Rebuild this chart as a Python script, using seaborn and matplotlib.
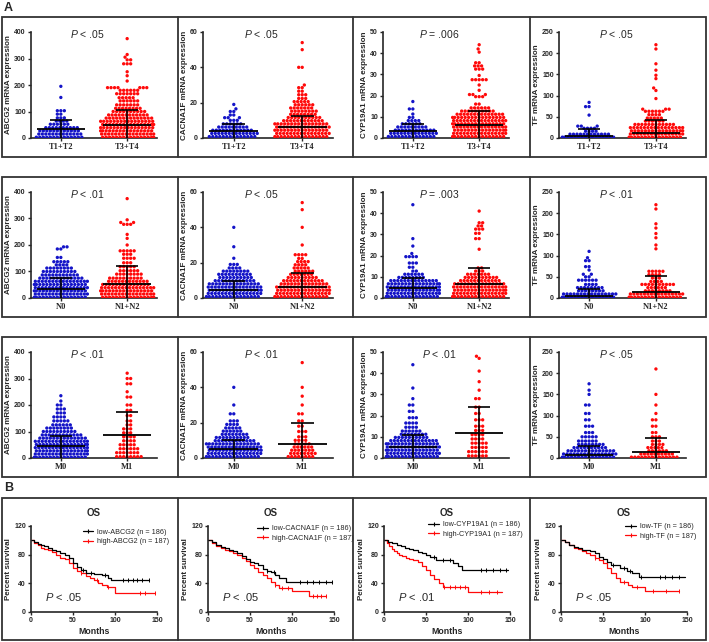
import numpy as np
import pandas as pd
import seaborn as sns
import matplotlib
matplotlib.use('Agg')
import matplotlib.pyplot as plt
from matplotlib.lines import Line2D
from matplotlib.patches import Rectangle

# ---------------- A: expression dot plots ----------------
# each group = dot levels (mRNA value) and how many dots sit on that level
genes = ['ABCG2', 'CACNA1F', 'CYP19A1', 'TF']
gene_ticks = [[0, 100, 200, 300, 400], [0, 20, 40, 60], [0, 10, 20, 30, 40, 50], [0, 50, 100, 150, 200, 250]]
t_groups = ['T1+T2', 'T3+T4']
n_groups = ['N0', 'N1+N2']
m_groups = ['M0', 'M1']
p_t = ['< .05', '< .05', '= .006', '< .05']
p_n = ['< .01', '< .05', '= .003', '< .01']
p_m = ['< .01', '< .01', '< .01', '< .05']

# T stage
abcg2_t_lo_lv = [3, 15, 27, 39, 52, 64, 76, 90, 103, 153, 195]
abcg2_t_lo_n = [14, 13, 12, 10, 6, 4, 3, 2, 3, 1, 1]
abcg2_t_hi_lv = [3, 15, 27, 39, 51, 63, 75, 87, 100, 112, 125, 140, 152, 167, 180, 190, 215, 235, 250, 280, 295, 305, 315, 375]
abcg2_t_hi_n = [16, 16, 16, 16, 16, 16, 14, 12, 10, 8, 7, 6, 5, 7, 6, 7, 1, 1, 1, 3, 2, 1, 1, 1]
abcg2_t_mid = [33, 48]
abcg2_t_top = [68, 105]

cacna1f_t_lo_lv = [0.8, 2.6, 4.4, 6.2, 8, 10, 11.5, 13, 15, 16.5, 19]
cacna1f_t_lo_n = [14, 14, 12, 9, 6, 3, 3, 2, 2, 1, 1]
cacna1f_t_hi_lv = [0.8, 2.6, 4.4, 6.2, 8, 9.8, 11.6, 13.4, 15.2, 17, 18.8, 20.6, 22.4, 24.5, 26.5, 28.5, 30, 40, 50, 54]
cacna1f_t_hi_n = [16, 16, 16, 16, 16, 12, 10, 8, 8, 7, 6, 5, 3, 3, 2, 2, 1, 2, 1, 1]
cacna1f_t_mid = [4, 6]
cacna1f_t_top = [8, 12.5]

cyp_t_lo_lv = [0.7, 2.2, 3.7, 5.2, 6.7, 8.2, 9.7, 11.3, 13.7, 17.2]
cyp_t_lo_n = [14, 14, 12, 9, 6, 4, 2, 1, 2, 1]
cyp_t_hi_lv = [0.7, 2.2, 3.7, 5.2, 6.7, 8.2, 9.7, 11.2, 12.7, 14.2, 16, 19.5, 20.5, 22.5, 25, 27.5, 29.5, 32.5, 34, 35.5, 40.5, 42, 44]
cyp_t_hi_n = [16, 16, 16, 16, 16, 16, 16, 14, 10, 6, 2, 3, 3, 1, 1, 5, 1, 3, 3, 2, 1, 1, 1]
cyp_t_mid = [3.5, 6]
cyp_t_top = [6.5, 12.8]

tf_t_lo_lv = [2, 9, 16, 23, 28, 54, 74, 84]
tf_t_lo_n = [16, 12, 4, 4, 3, 1, 2, 1]
tf_t_hi_lv = [2, 9.5, 17, 24.5, 32, 40, 47, 55, 63, 68, 93, 112, 118, 140, 148, 160, 175, 210, 220]
tf_t_hi_n = [16, 16, 16, 16, 12, 6, 5, 4, 6, 3, 1, 1, 1, 1, 1, 1, 1, 1, 1]
tf_t_mid = [5, 12]
tf_t_top = [22, 42]

# N stage
abcg2_n_lo_lv = [3, 15, 27, 39, 51, 63, 75, 87, 100, 113, 125, 137, 153, 185, 193]
abcg2_n_lo_n = [16, 16, 16, 16, 16, 16, 13, 11, 10, 8, 4, 5, 2, 2, 2]
abcg2_n_hi_lv = [3, 15, 27, 39, 51, 63, 75, 90, 103, 118, 133, 150, 165, 178, 200, 225, 240, 278, 285, 295, 375]
abcg2_n_hi_n = [16, 16, 16, 16, 14, 12, 10, 8, 6, 5, 3, 4, 3, 5, 1, 1, 1, 3, 2, 1, 1]
abcg2_n_mid = [35, 52]
abcg2_n_top = [75, 120]

cacna1f_n_lo_lv = [0.8, 2.6, 4.4, 6.2, 8, 9.8, 11.6, 13.4, 15.2, 17, 19, 22.5, 29, 40]
cacna1f_n_lo_n = [16, 16, 16, 16, 15, 12, 10, 10, 8, 4, 3, 1, 1, 1]
cacna1f_n_hi_lv = [0.8, 2.6, 4.4, 6.2, 8, 9.8, 11.6, 13.4, 15.2, 17, 18.8, 20.6, 22.4, 24.5, 30, 40, 50, 54]
cacna1f_n_hi_n = [16, 16, 16, 16, 14, 12, 9, 7, 6, 5, 4, 4, 2, 4, 1, 1, 1, 1]
cacna1f_n_mid = [4.5, 6]
cacna1f_n_top = [9.5, 14]

cyp_n_lo_lv = [0.7, 2.2, 3.7, 5.2, 6.7, 8.2, 9.7, 11.2, 12.7, 14.5, 16.5, 19.5, 21, 24.5, 28, 44]
cyp_n_lo_n = [16, 16, 16, 16, 16, 14, 8, 6, 2, 2, 3, 4, 1, 1, 1, 1]
cyp_n_hi_lv = [0.7, 2.2, 3.7, 5.2, 6.7, 8.2, 9.7, 11.2, 12.7, 14.2, 23, 28, 30.5, 32.5, 34, 35.5, 41]
cyp_n_hi_n = [16, 16, 16, 16, 15, 12, 10, 7, 3, 2, 1, 2, 2, 3, 2, 2, 1]
cyp_n_mid = [4.5, 6.5]
cyp_n_top = [9.5, 14]

tf_n_lo_lv = [2, 9.5, 17, 24.5, 32, 42, 50, 56, 66, 74, 88, 95, 110]
tf_n_lo_n = [16, 16, 8, 8, 4, 6, 2, 2, 1, 2, 2, 1, 1]
tf_n_hi_lv = [2, 9.5, 17, 24.5, 32, 39, 47, 55, 63, 116, 125, 142, 152, 165, 175, 210, 220]
tf_n_hi_n = [16, 16, 8, 6, 10, 4, 3, 4, 5, 1, 1, 1, 1, 1, 1, 1, 1]
tf_n_mid = [5, 15]
tf_n_top = [22, 52]

# M stage
abcg2_m_lo_lv = [3, 15, 27, 39, 51, 63, 75, 87, 100, 113, 125, 140, 155, 170, 185, 200, 215, 235]
abcg2_m_lo_n = [16, 16, 16, 16, 16, 16, 14, 12, 10, 8, 6, 5, 4, 3, 3, 2, 1, 1]
abcg2_m_hi_lv = [5, 20, 35, 50, 65, 80, 95, 110, 125, 140, 160, 180, 200, 230, 250, 280, 300, 320]
abcg2_m_hi_n = [8, 7, 6, 5, 4, 4, 3, 3, 2, 2, 2, 2, 2, 2, 1, 2, 2, 1]
abcg2_m_mid = [45, 85]
abcg2_m_top = [82, 172]

cacna1f_m_lo_lv = [0.8, 2.6, 4.4, 6.2, 8, 9.8, 11.6, 13.4, 15.2, 17, 19, 21, 25, 30, 40]
cacna1f_m_lo_n = [16, 16, 16, 16, 16, 12, 10, 8, 6, 5, 4, 3, 2, 1, 1]
cacna1f_m_hi_lv = [0.8, 2.6, 4.4, 6.2, 8, 10, 12, 15, 18, 21, 25, 30, 35, 40, 54]
cacna1f_m_hi_n = [8, 8, 7, 6, 5, 4, 3, 3, 2, 2, 2, 1, 1, 1, 1]
cacna1f_m_mid = [5, 8]
cacna1f_m_top = [10, 20]

cyp_m_lo_lv = [0.7, 2.2, 3.7, 5.2, 6.7, 8.2, 9.7, 11.2, 12.7, 14.5, 16.5, 19, 22, 25, 28, 33, 44]
cyp_m_lo_n = [16, 16, 16, 16, 16, 14, 10, 8, 6, 4, 4, 3, 2, 2, 1, 1, 1]
cyp_m_hi_lv = [1, 3, 5, 7, 9, 11, 13, 15, 18, 21, 24, 28, 32, 36, 41, 47, 48]
cyp_m_hi_n = [6, 6, 5, 5, 4, 4, 3, 3, 3, 2, 2, 2, 1, 1, 1, 1, 1]
cyp_m_mid = [5, 12]
cyp_m_top = [11, 24]

tf_m_lo_lv = [2, 9.5, 17, 24.5, 32, 40, 50, 60, 75, 90, 105, 125, 150, 160, 175]
tf_m_lo_n = [16, 16, 14, 10, 8, 6, 5, 3, 3, 2, 2, 2, 1, 1, 1]
tf_m_hi_lv = [2, 9.5, 17, 24.5, 32, 40, 50, 60, 75, 90, 105, 125, 150, 210]
tf_m_hi_n = [14, 10, 6, 5, 4, 3, 3, 2, 2, 2, 1, 1, 1, 1]
tf_m_mid = [6, 15]
tf_m_top = [28, 48]

# ---------------- B: overall survival ----------------
p_os = ['< .05', '< .05', '< .01', '< .05']
n_low = 186
n_high = 187

abcg2_low_t = [0, 4, 8, 12, 16, 20, 25, 30, 35, 40, 45, 50, 55, 60, 65, 75, 85, 92, 95, 141]
abcg2_low_s = [100, 97, 95, 93, 92, 90, 87, 85, 83, 80, 75, 69, 63, 58, 55, 53, 51, 48, 45, 45]
abcg2_low_cens = [62, 72, 88, 110, 116, 122, 126, 132, 140]
abcg2_high_t = [0, 4, 8, 12, 16, 20, 25, 30, 35, 40, 45, 50, 55, 60, 65, 70, 75, 80, 85, 90, 100, 148]
abcg2_high_s = [100, 96, 93, 90, 88, 86, 84, 80, 76, 74, 68, 62, 57, 54, 50, 47, 44, 40, 37, 35, 27, 27]
abcg2_high_cens = [60, 78, 92, 130, 136, 148]

cacna1f_low_t = [0, 5, 10, 15, 20, 25, 30, 35, 40, 45, 50, 55, 60, 65, 70, 75, 80, 85, 93, 148]
cacna1f_low_s = [100, 97, 94, 91, 89, 87, 85, 82, 78, 74, 70, 68, 65, 60, 57, 56, 51, 48, 42, 42]
cacna1f_low_cens = [70, 78, 110, 118, 125, 132, 140, 148]
cacna1f_high_t = [0, 5, 10, 15, 20, 25, 30, 35, 40, 45, 50, 55, 60, 65, 70, 75, 80, 85, 90, 100, 120, 140]
cacna1f_high_s = [100, 96, 92, 89, 87, 85, 82, 79, 75, 71, 66, 61, 56, 52, 48, 42, 38, 34, 33, 29, 23, 23]
cacna1f_high_cens = [80, 88, 95, 125, 130, 135, 140]

cyp_low_t = [0, 5, 10, 15, 20, 25, 30, 35, 40, 45, 50, 55, 62, 82, 88, 93, 148]
cyp_low_s = [100, 98, 96, 94, 92, 90, 88, 86, 84, 82, 80, 77, 73, 68, 64, 59, 59]
cyp_low_cens = [60, 70, 78, 115, 122, 130, 138, 145]
cyp_high_t = [0, 3, 6, 9, 12, 15, 18, 22, 26, 30, 35, 40, 45, 50, 55, 60, 65, 70, 100, 140]
cyp_high_s = [100, 96, 92, 88, 85, 82, 80, 78, 76, 74, 72, 70, 64, 58, 52, 46, 40, 35, 28, 28]
cyp_high_cens = [72, 78, 84, 90, 96, 115, 125, 135]

tf_low_t = [0, 5, 10, 15, 20, 25, 30, 35, 40, 45, 50, 55, 60, 70, 78, 85, 93, 148]
tf_low_s = [100, 97, 94, 91, 89, 87, 86, 85, 83, 77, 74, 70, 66, 62, 57, 54, 49, 49]
tf_low_cens = [62, 75, 82, 95, 118, 124, 132, 140]
tf_high_t = [0, 5, 10, 15, 20, 25, 30, 35, 40, 45, 50, 55, 60, 65, 70, 80, 85, 100, 140]
tf_high_s = [100, 97, 93, 90, 88, 85, 83, 80, 76, 72, 68, 62, 55, 48, 42, 38, 35, 30, 30]
tf_high_cens = [40, 75, 90, 110, 125, 140]

# ---------------- style ----------------
sns.set_style('ticks')
plt.rcParams['font.family'] = ['Liberation Sans', 'DejaVu Sans']
plt.rcParams['mathtext.fontset'] = 'custom'
plt.rcParams['mathtext.it'] = 'Liberation Sans:italic'
plt.rcParams['mathtext.rm'] = 'Liberation Sans'
BLUE = '#1414c8'
RED = '#ff0a0a'
W, H = 709, 642

fig = plt.figure(figsize=(W / 100, H / 100), dpi=100)


def px_axes(x0, x1, ytop, ybot):
    return fig.add_axes([x0 / W, 1 - ybot / H, (x1 - x0) / W, (ybot - ytop) / H])


def style_axes(ax):
    for sp in ['left', 'bottom']:
        ax.spines[sp].set_linewidth(1.2)
    sns.despine(ax=ax)
    ax.tick_params(axis='both', length=2.5, width=1, pad=1.2, labelsize=5)
    for lbl in ax.get_yticklabels():
        lbl.set_fontweight('bold')


def dot_panel(ax, lo_lv, lo_n, hi_lv, hi_n, mid, top, groups, ticks, gene, ptxt):
    vals = np.concatenate([np.repeat(lo_lv, lo_n), np.repeat(hi_lv, hi_n)])
    grp = [groups[0]] * int(sum(lo_n)) + [groups[1]] * int(sum(hi_n))
    df = pd.DataFrame({'group': grp, 'value': vals})
    sns.swarmplot(data=df, x='group', y='value', hue='group', order=groups, hue_order=groups,
                  palette=[BLUE, RED], size=2.4, legend=False, warn_thresh=1, ax=ax)
    for i in range(2):
        ax.hlines(mid[i], i - 0.36, i + 0.36, color='k', lw=1.3, zorder=5)
        ax.vlines(i, 0, top[i], color='k', lw=1.2, zorder=5)
        ax.hlines(top[i], i - 0.17, i + 0.17, color='k', lw=1.2, zorder=5)
    ax.set_xlim(-0.45, 1.45)
    ax.set_ylim(0, ticks[-1])
    ax.set_yticks(ticks)
    ax.set_xticks([0, 1])
    style_axes(ax)
    ax.set_xticklabels(groups, fontfamily='Liberation Serif', fontweight='bold', fontsize=6)
    ax.set_xlabel('')
    ax.set_ylabel(gene + ' mRNA expression', fontsize=5.8, fontweight='bold', labelpad=1.5)
    ax.text(0.45, 0.98, '$P$ ' + ptxt, transform=ax.transAxes, ha='center', va='center', fontsize=7.5)


scatter_x = [(31, 157), (203, 333), (383, 509), (559, 686)]
rows = [
    (t_groups, p_t, [
        (abcg2_t_lo_lv, abcg2_t_lo_n, abcg2_t_hi_lv, abcg2_t_hi_n, abcg2_t_mid, abcg2_t_top),
        (cacna1f_t_lo_lv, cacna1f_t_lo_n, cacna1f_t_hi_lv, cacna1f_t_hi_n, cacna1f_t_mid, cacna1f_t_top),
        (cyp_t_lo_lv, cyp_t_lo_n, cyp_t_hi_lv, cyp_t_hi_n, cyp_t_mid, cyp_t_top),
        (tf_t_lo_lv, tf_t_lo_n, tf_t_hi_lv, tf_t_hi_n, tf_t_mid, tf_t_top)]),
    (n_groups, p_n, [
        (abcg2_n_lo_lv, abcg2_n_lo_n, abcg2_n_hi_lv, abcg2_n_hi_n, abcg2_n_mid, abcg2_n_top),
        (cacna1f_n_lo_lv, cacna1f_n_lo_n, cacna1f_n_hi_lv, cacna1f_n_hi_n, cacna1f_n_mid, cacna1f_n_top),
        (cyp_n_lo_lv, cyp_n_lo_n, cyp_n_hi_lv, cyp_n_hi_n, cyp_n_mid, cyp_n_top),
        (tf_n_lo_lv, tf_n_lo_n, tf_n_hi_lv, tf_n_hi_n, tf_n_mid, tf_n_top)]),
    (m_groups, p_m, [
        (abcg2_m_lo_lv, abcg2_m_lo_n, abcg2_m_hi_lv, abcg2_m_hi_n, abcg2_m_mid, abcg2_m_top),
        (cacna1f_m_lo_lv, cacna1f_m_lo_n, cacna1f_m_hi_lv, cacna1f_m_hi_n, cacna1f_m_mid, cacna1f_m_top),
        (cyp_m_lo_lv, cyp_m_lo_n, cyp_m_hi_lv, cyp_m_hi_n, cyp_m_mid, cyp_m_top),
        (tf_m_lo_lv, tf_m_lo_n, tf_m_hi_lv, tf_m_hi_n, tf_m_mid, tf_m_top)]),
]
for r, (groups, ptxts, panels) in enumerate(rows):
    for j, pdata in enumerate(panels):
        x0, x1 = scatter_x[j]
        ax = px_axes(x0, x1, 32 + 160 * r, 138 + 160 * r)
        dot_panel(ax, *pdata, groups, gene_ticks[j], genes[j], ptxts[j])

# KM panels
km_x = [(31, 157), (208, 334), (384, 510), (561, 687)]
leg_anchor = [(0.41, 0.97), (0.39, 1.01), (0.35, 1.055), (0.51, 1.035)]
km_curves = [
    (abcg2_low_t, abcg2_low_s, abcg2_low_cens, abcg2_high_t, abcg2_high_s, abcg2_high_cens),
    (cacna1f_low_t, cacna1f_low_s, cacna1f_low_cens, cacna1f_high_t, cacna1f_high_s, cacna1f_high_cens),
    (cyp_low_t, cyp_low_s, cyp_low_cens, cyp_high_t, cyp_high_s, cyp_high_cens),
    (tf_low_t, tf_low_s, tf_low_cens, tf_high_t, tf_high_s, tf_high_cens),
]


def step_at(t, s, c):
    idx = np.searchsorted(np.asarray(t), c, side='right') - 1
    return np.asarray(s)[idx]


for j, (lt, ls, lc, ht, hs, hc) in enumerate(km_curves):
    x0, x1 = km_x[j]
    ax = px_axes(x0, x1, 526, 612)
    for t, s, c, col in [(ht, hs, hc, RED), (lt, ls, lc, 'k')]:
        sns.lineplot(x=t, y=s, drawstyle='steps-post', color=col, lw=0.9, estimator=None, sort=False, ax=ax)
        ax.plot(c, step_at(t, s, c), ls='none', marker='|', ms=3.2, mew=0.7, color=col, clip_on=False)
    ax.set_xlim(0, 150)
    ax.set_ylim(0, 120)
    ax.set_xticks([0, 50, 100, 150])
    ax.set_yticks([0, 40, 80, 120])
    style_axes(ax)
    for lbl in ax.get_xticklabels():
        lbl.set_fontweight('bold')
    ax.set_xlabel('Months', fontsize=6.3, fontweight='bold', labelpad=2)
    ax.set_ylabel('Percent survival', fontsize=5.8, fontweight='bold', labelpad=1.5)
    ax.set_title('OS', fontsize=7, fontweight='bold', pad=7)
    ax.text(17, 21, '$P$ ' + p_os[j], fontsize=8, va='center')
    handles = [Line2D([], [], color='k', lw=0.9, marker='|', ms=3.5, mew=0.8),
               Line2D([], [], color=RED, lw=0.9, marker='|', ms=3.5, mew=0.8)]
    labels = [f'low-{genes[j]} (n = {n_low})', f'high-{genes[j]} (n = {n_high})']
    ax.legend(handles, labels, loc='upper left', bbox_to_anchor=leg_anchor[j], frameon=False,
              fontsize=5.2, handlelength=1.5, handletextpad=0.5, borderpad=0, borderaxespad=0,
              labelspacing=0.35)

# panel frames and letters
for yt, yb in [(17, 157), (177, 317), (337, 477), (498, 640)]:
    fig.add_artist(Rectangle((2 / W, 1 - yb / H), 704 / W, (yb - yt) / H, transform=fig.transFigure,
                             fill=False, lw=1.3, ec='#333333'))
    for xd in [178, 353, 530]:
        fig.add_artist(Line2D([xd / W, xd / W], [1 - yb / H, 1 - yt / H], transform=fig.transFigure,
                              color='#333333', lw=1.3))
fig.text(4 / W, 1 - 8 / H, 'A', fontsize=9, fontweight='bold', va='center')
fig.text(4 / W, 1 - 488 / H, 'B', fontsize=9, fontweight='bold', va='center')

fig.savefig('out.png', dpi=100)
